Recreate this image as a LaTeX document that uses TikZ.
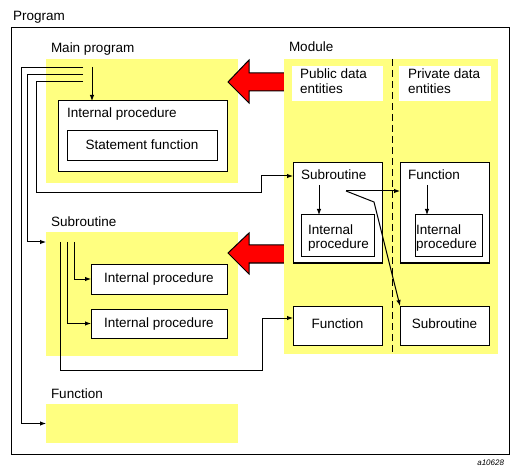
\documentclass[tikz,border=0pt]{standalone}
\usepackage{fontspec}
\setmainfont{Liberation Sans}
\usetikzlibrary{arrows.meta,calc}
\definecolor{paleyellow}{RGB}{255,255,128}
\definecolor{arrred}{RGB}{255,0,0}
\begin{document}
\begin{tikzpicture}[x=1pt,y=-1pt,
  every node/.style={font=\fontsize{13.5}{15}\selectfont, inner sep=0pt, outer sep=0pt},
  ybox/.style={fill=paleyellow, draw=none, anchor=north west},
  wbox/.style={fill=white, draw=black, line width=1pt, anchor=north west},
  pbox/.style={fill=white, draw=none, anchor=north west},
  lbl/.style={anchor=base west},
  clbl/.style={anchor=base},
  conn/.style={draw=black, line width=1pt, -{Latex[length=6pt,width=4.5pt]}},
  plain/.style={draw=black, line width=1pt},
  bigarrow/.style={fill=arrred, draw=black, line width=1pt, line join=miter}
]
\useasboundingbox (0,0) rectangle (520,476);
\fill[white] (0,0) rectangle (520,476);

% Outer program
\node[lbl] (progl) at (13,21) {Program};
\node[draw=black, line width=1pt, anchor=north west, minimum width=498pt, minimum height=426pt] (prog) at (11,28) {};

% Main program
\node[lbl] (mainl) at (51,53) {Main program};
\node[ybox, minimum width=192pt, minimum height=124pt] (mainY) at (46,59) {};
\node[wbox, minimum width=169pt, minimum height=71pt] (mainIP) at (58,101) {};
\node[lbl] (mainIPl) at (67,118) {Internal procedure};
\node[wbox, minimum width=150pt, minimum height=30pt] (stmt) at (67,131) {};
\node[clbl] (stmtl) at (142,150) {Statement function};

% Subroutine (left)
\node[lbl] (subl) at (51,226) {Subroutine};
\node[ybox, minimum width=192pt, minimum height=124pt] (subY) at (46,232) {};
\node[wbox, minimum width=136pt, minimum height=30pt] (sIPa) at (91,264) {};
\node[clbl] (sIPal) at (159,283) {Internal procedure};
\node[wbox, minimum width=136pt, minimum height=29pt] (sIPb) at (91,309) {};
\node[clbl] (sIPbl) at (159,327) {Internal procedure};

% Function (left)
\node[lbl] (funl) at (51,398) {Function};
\node[ybox, minimum width=192pt, minimum height=39pt] (funY) at (46,404) {};

% Red arrows
\path[bigarrow] (228,82) -- (249,60) -- (249,73) -- (286,73) -- (286,91) -- (249,91) -- (249,103) -- cycle;
\path[bigarrow] (228,253) -- (249,233) -- (249,245) -- (286,245) -- (286,263) -- (249,263) -- (249,274) -- cycle;

% Module
\node[lbl] (modl) at (289,52) {Module};
\node[ybox, minimum width=214pt, minimum height=295pt] (modY) at (284,59) {};
\coordinate (dtop) at (392,59);
\coordinate (dbot) at (392,354);
\draw[black, line width=1pt, dash pattern=on 7pt off 4pt] (dtop) -- (dbot);

\node[pbox, minimum width=91pt, minimum height=35pt] (pub) at (292,66) {};
\node[lbl] (publ) at (300,79) {Public data};
\node[lbl] (publ2) at (300,94) {entities};
\node[pbox, minimum width=92pt, minimum height=35pt] (priv) at (399,66) {};
\node[lbl] (privl) at (408,79) {Private data};
\node[lbl] (privl2) at (408,94) {entities};

\node[wbox, minimum width=89pt, minimum height=100pt] (mSub) at (293,163) {};
\node[lbl] (mSubl) at (301,180) {Subroutine};
\node[wbox, minimum width=73pt, minimum height=42pt] (mSubIP) at (301,215) {};
\node[lbl] (mSubIPl) at (308,234) {Internal};
\node[lbl] (mSubIPl2) at (308,248) {procedure};

\node[wbox, minimum width=89pt, minimum height=100pt] (mFun) at (400,163) {};
\node[lbl] (mFunl) at (408,180) {Function};
\node[wbox, minimum width=67pt, minimum height=42pt] (mFunIP) at (415,215) {};
\node[lbl] (mFunIPl) at (416,234) {Internal};
\node[lbl] (mFunIPl2) at (416,248) {procedure};

\node[wbox, minimum width=89pt, minimum height=39pt] (mFunB) at (293,306) {};
\node[clbl] (mFunBl) at (337.5,328) {Function};
\node[wbox, minimum width=89pt, minimum height=39pt] (mSubB) at (400,306) {};
\node[clbl] (mSubBl) at (444.5,328) {Subroutine};

% Connectors from main program
\coordinate (mtop) at (92,67);
\coordinate (ma) at (83,68);
\coordinate (mb) at (83,75);
\coordinate (mc) at (83,82);
\draw[conn] (mtop) -- (mtop |- mainIP.north);
\draw[conn] (ma) -- (21,68) -- (21,423.5) -- (funY.west);
\coordinate (subEntry) at (46,242);
\draw[conn] (mb) -- (27,75) -- (27,242) -- (subEntry);
\coordinate (mSubEntry) at (293,176);
\draw[conn] (mc) -- (36,82) -- (36,193) -- (261,193) -- (261,176) -- (mSubEntry);

% Subroutine internal connectors
\coordinate (sa) at (74,242);
\coordinate (sb) at (67,242);
\coordinate (sc) at (60,242);
\draw[conn] (sa) -- (sa |- sIPa.west) -- (sIPa.west);
\draw[conn] (sb) -- (sb |- sIPb.west) -- (sIPb.west);
\coordinate (mFunBEntry) at (293,318);
\draw[conn] (sc) -- (60,370) -- (262,370) -- (262,318) -- (mFunBEntry);

% Module connectors
\coordinate (msa) at (319,185);
\draw[conn] (msa) -- (msa |- mSubIP.north);
\coordinate (mfa) at (427,185);
\draw[conn] (mfa) -- (mfa |- mFunIP.north);
\coordinate (mss) at (346,191);
\draw[conn] (mss) -- (mss -| mFun.west);
\draw[conn] (mss) -- (374,202) -- (mSubB.north west);

% Figure id
\node[anchor=base east, font=\fontsize{8}{9}\selectfont\itshape] (figid) at (504,465) {a10628};
\end{tikzpicture}
\end{document}
